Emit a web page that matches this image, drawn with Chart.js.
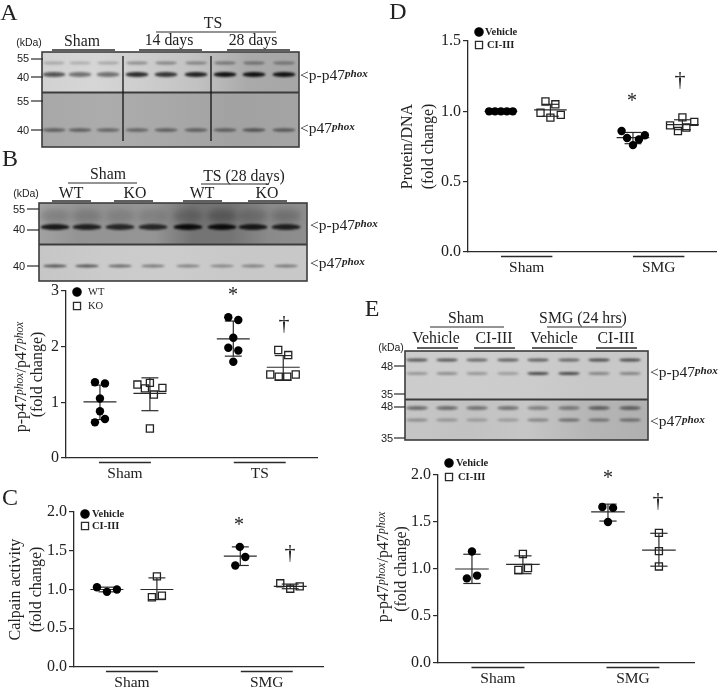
<!DOCTYPE html>
<html><head><meta charset="utf-8">
<script src="https://cdn.jsdelivr.net/npm/chart.js@4"></script>
<style>
html,body{margin:0;padding:0;background:#fff;width:720px;height:689px;overflow:hidden}
#page{position:relative;width:720px;height:689px;filter:blur(.35px)}
canvas{position:absolute}
.t{position:absolute;font-family:"Liberation Serif",serif;color:#222;white-space:nowrap;transform:translate(-50%,-50%);line-height:1}
.s{font-family:"Liberation Sans",sans-serif;color:#222}
.l{transform:translate(0,-50%)}
.r{transform:translate(-50%,-50%) rotate(-90deg)}
sup{font-size:.72em;font-style:italic;font-weight:bold;vertical-align:.3em;line-height:0}
.r sup{font-weight:normal;font-style:italic}
</style></head><body><div id="page"><canvas id="blots" width="720" height="689" style="left:0;top:0"></canvas></div>
<script>
const groupX=[0,1,2.67,3.67];
// Panel B
const bTickLabels=["Sham","TS"];
const bWtShamOff=[-.1,.1,0,0,-.1,.1], bWtShamVal=[1.36,1.34,1.07,.84,.64,.70];
const bWtTsOff=[-.1,.1,0,-.1,.1,0],   bWtTsVal=[2.53,2.48,2.16,1.98,1.93,1.73];
const bKoShamOff=[-.25,0,-.1,.08,.25,0], bKoShamVal=[1.32,1.35,1.25,1.14,1.26,.53];
const bKoTsOff=[-.1,.1,-.26,-.09,.08,.25], bKoTsVal=[1.94,1.85,1.50,1.46,1.46,1.50];
const bMean=[1.01,1.16,2.14,1.63], bUpper=[1.31,1.44,2.46,1.84], bLower=[.69,.85,1.83,1.40];
// Panel C
const cTickLabels=["Sham","SMG"];
const cVehShamOff=[-.2,0,.2], cVehShamVal=[1.03,.97,1.0];
const cVehSmgOff=[-.01,.1,-.1], cVehSmgVal=[1.55,1.42,1.31];
const cCiShamOff=[0,-.1,.1], cCiShamVal=[1.17,.90,.92];
const cCiSmgOff=[-.2,0,.19], cCiSmgVal=[1.08,1.01,1.04];
const cMean=[1.0,1.0,1.43,1.04], cUpper=[1.03,1.15,1.55,1.07], cLower=[.97,.87,1.31,1.01];
// Panel D
const dTickLabels=["Sham","SMG"];
const dVehShamOff=[-.24,-.12,0,.12,.24], dVehShamVal=[1,1,1,1,1];
const dVehSmgOff=[-.23,-.12,0,.12,.24], dVehSmgVal=[.86,.81,.76,.80,.83];
const dCiShamOff=[-.1,.1,-.2,0,.21], dCiShamVal=[1.07,1.05,.99,.955,.975];
const dCiSmgOff=[-.25,-.09,0,.08,.24], dCiSmgVal=[.90,.86,.957,.885,.925];
const dMean=[1.0,1.01,.813,.905], dUpper=[1.0,1.05,.85,.94], dLower=[1.0,.965,.77,.87];
// Panel E
const eTickLabels=["Sham","SMG"];
const eVehShamOff=[0,-.1,.1], eVehShamVal=[1.186,.90,.93];
const eVehSmgOff=[-.11,.1,0], eVehSmgVal=[1.66,1.65,1.50];
const eCiShamOff=[0,-.09,.1], eCiShamVal=[1.16,.99,1.01];
const eCiSmgOff=[0,0,0], eCiSmgVal=[1.384,1.19,1.027];
const eMean=[1.0,1.05,1.607,1.20], eUpper=[1.157,1.14,1.69,1.38], eLower=[.846,.95,1.51,1.03];

const INK="#2a2a2a", SERIF='"Liberation Serif", serif';
const page=document.getElementById('page');
function pts(g,off,val){return val.map((v,i)=>({x:groupX[g]+off[i],y:v}));}

const overlay={id:'overlay',
 beforeDatasetsDraw(ch,a,o){
  const c=ch.ctx,x=ch.scales.x,y=ch.scales.y;c.save();c.strokeStyle=INK;c.lineWidth=1.2;
  const seg=(x1,y1,x2,y2)=>{c.beginPath();c.moveTo(x1,y1);c.lineTo(x2,y2);c.stroke();};
  const u=x.getPixelForValue(1)-x.getPixelForValue(0);
  groupX.forEach((g,i)=>{
   const px=x.getPixelForValue(g),m=y.getPixelForValue(o.mean[i]),t=y.getPixelForValue(o.upper[i]),b=y.getPixelForValue(o.lower[i]);
   seg(px-.33*u,m,px+.33*u,m);seg(px,t,px,b);seg(px-.17*u,t,px+.17*u,t);seg(px-.17*u,b,px+.17*u,b);
  });
  c.restore();
 },
 afterDraw(ch,a,o){
  const c=ch.ctx,x=ch.scales.x;c.save();c.strokeStyle=INK;c.lineWidth=1.3;
  o.under.forEach(g=>{const p=x.getPixelForValue(g),h=.52*(x.getPixelForValue(1)-x.getPixelForValue(0));
   c.beginPath();c.moveTo(p-h,ch.chartArea.bottom+4.5);c.lineTo(p+h,ch.chartArea.bottom+4.5);c.stroke();});
  ch.data.datasets.forEach((d,i)=>{
   const [mx,my,tx]=o.legend[i];
   c.fillStyle=d.pointBackgroundColor;c.strokeStyle=INK;c.lineWidth=1.3;
   Chart.helpers.drawPoint(c,{pointStyle:d.pointStyle,radius:d.pointRadius,rotation:0,borderWidth:1.3},mx-o.cx,my-o.cy);
   if(d.pointStyle==='circle'){c.fill();}
   c.fillStyle='#222';c.font=o.legendFont;c.textBaseline='middle';c.textAlign='left';
   c.fillText(d.label,tx-o.cx,my-o.cy);
  });
  c.restore();
 }};

function panel(p){
 const cv=document.createElement('canvas');
 const topPad=18;
 const cx=p.left,cy=p.top-topPad,w=p.right+6-cx,h=p.bottom+28-cy;
 cv.width=w;cv.height=h;cv.style.left=cx+'px';cv.style.top=cy+'px';page.appendChild(cv);
 const u=p.unit;
 new Chart(cv,{type:'scatter',data:{datasets:[
  {label:p.names[0],data:p.a,pointStyle:'circle',pointRadius:4.2,pointBackgroundColor:'#000',pointBorderColor:'#000',pointBorderWidth:0,showLine:false},
  {label:p.names[1],data:p.b,pointStyle:'rect',pointRadius:5,pointBackgroundColor:'rgba(0,0,0,0)',pointBorderColor:'#222',pointBorderWidth:1.3,showLine:false}]},
 options:{responsive:false,animation:false,events:[],
  layout:{padding:{left:0,top:topPad,right:6,bottom:0}},
  plugins:{legend:{display:false},tooltip:{enabled:false},
   overlay:{mean:p.mean,upper:p.upper,lower:p.lower,under:p.under,legend:p.legend,cx,cy,legendFont:p.legendFont}},
  scales:{
   x:{type:'linear',min:(p.plot0-p.c0)/u,max:(p.right-p.c0)/u,
    afterBuildTicks:s=>{s.ticks=p.under.map(v=>({value:v}));},
    afterFit:s=>{s.height=28;},
    grid:{display:false,drawTicks:false},border:{color:INK,width:1.3},
    ticks:{autoSkip:false,maxRotation:0,padding:7,color:'#222',font:{family:SERIF,size:15.5},callback:v=>v<2?p.ticks[0]:p.ticks[1]}},
   y:{type:'linear',min:0,max:p.max,
    afterFit:s=>{s.width=p.plot0-cx;},
    grid:{drawOnChartArea:false,drawTicks:true,tickLength:5,color:INK,lineWidth:1.2},border:{color:INK,width:1.3},
    title:{display:true,text:p.title,color:'#222',font:{family:SERIF,size:16,lineHeight:p.titleLH/16},padding:{top:p.titlePad,bottom:0}},
    ticks:{stepSize:p.step,padding:2,color:'#222',font:{family:SERIF,size:p.tickSize||16},callback:v=>p.step<1?v.toFixed(1):String(v)}}
  }},plugins:[overlay]});
}

panel({left:0,top:291,right:318,bottom:458,plot0:66,c0:100,unit:50,max:3,step:1,ticks:bTickLabels,under:[.5,3.2],names:["WT","KO"],
 a:[...pts(0,bWtShamOff,bWtShamVal),...pts(2,bWtTsOff,bWtTsVal)],b:[...pts(1,bKoShamOff,bKoShamVal),...pts(3,bKoTsOff,bKoTsVal)],
 mean:bMean,upper:bUpper,lower:bLower,legend:[[77,292,88],[77,306,88]],legendFont:'10.5px '+SERIF,
 title:["","(fold change)"],titleLH:19,titlePad:9});
panel({left:0,top:512,right:324,bottom:667,plot0:74,c0:107,unit:50,max:2,step:.5,ticks:cTickLabels,under:[.5,3.2],names:["Vehicle","CI-III"],
 a:[...pts(0,cVehShamOff,cVehShamVal),...pts(2,cVehSmgOff,cVehSmgVal)],b:[...pts(1,cCiShamOff,cCiShamVal),...pts(3,cCiSmgOff,cCiSmgVal)],
 mean:cMean,upper:cUpper,lower:cLower,legend:[[85,514,92],[85,526,92]],legendFont:'bold 10.5px '+SERIF,
 title:["Calpain activity","(fold change)"],titleLH:21,titlePad:5});
panel({left:396,top:41,right:717,bottom:252,plot0:468,c0:501,unit:49.5,max:1.5,step:.5,ticks:dTickLabels,under:[.52,3.19],names:["Vehicle","CI-III"],
 a:[...pts(0,dVehShamOff,dVehShamVal),...pts(2,dVehSmgOff,dVehSmgVal)],b:[...pts(1,dCiShamOff,dCiShamVal),...pts(3,dCiSmgOff,dCiSmgVal)],
 mean:dMean,upper:dUpper,lower:dLower,legend:[[479,32,485],[479,45,487]],legendFont:'bold 10.5px '+SERIF,
 title:["Protein/DNA","(fold change)"],titleLH:21,titlePad:1});
panel({left:372,top:475,right:695,bottom:663,plot0:438,c0:472,unit:51,max:2,step:.5,ticks:eTickLabels,under:[.51,3.16],names:["Vehicle","CI-III"],
 a:[...pts(0,eVehShamOff,eVehShamVal),...pts(2,eVehSmgOff,eVehSmgVal)],b:[...pts(1,eCiShamOff,eCiShamVal),...pts(3,eCiSmgOff,eCiSmgVal)],
 mean:eMean,upper:eUpper,lower:eLower,legend:[[449,463,456],[449,477,458]],legendFont:'bold 10.5px '+SERIF,
 title:["","(fold change)"],titleLH:20,titlePad:0});

// ---- text annotations ----
function T(txt,x,y,size,cls){const d=document.createElement('div');d.className='t '+(cls||'');d.innerHTML=txt;d.style.left=x+'px';d.style.top=y+'px';d.style.fontSize=size+'px';page.appendChild(d);}
const PH='p47<sup>phox</sup>', PP='p-p47<sup>phox</sup>';
const HD=15.8;
[["A",9,12],["B",10,158],["C",10,497],["D",398,11],["E",372,308]].forEach(a=>T(a[0],a[1],a[2],24));
T(PP+'/'+PH,21,377,16,'r');T(PP+'/'+PH,383,567,16,'r');
[["*",233,294,20],["†",284,323,22],["*",239,524,20],["†",290,552,22],["*",632,100,20],["†",680,79,22],["*",608,477,20],["†",658,500,22]].forEach(a=>T(a[0],a[1],a[2],a[3]));
// blot A
T("(kDa)",29,42,10.5,'s');T("Sham",82,41,HD);T("TS",213,23,HD);T("14 days",169,40,HD);T("28 days",253,40,HD);
[["55",23,58],["40",23,77],["55",23,101],["40",23,130]].forEach(a=>T(a[0],a[1],a[2],11,'s'));
T("&lt;"+PP,300,75,15.5,'l');T("&lt;"+PH,300,128,15.5,'l');
// blot B
T("(kDa)",26,193,10.5,'s');T("Sham",108,174,HD);T("TS (28 days)",244,176,HD);
[["WT",71],["KO",135],["WT",202],["KO",267]].forEach(a=>T(a[0],a[1],193,HD));
[["55",19,209],["40",19,229],["40",19,266]].forEach(a=>T(a[0],a[1],a[2],11,'s'));
T("&lt;"+PP,310,225,15.5,'l');T("&lt;"+PH,310,263,15.5,'l');
// blot E
T("(kDa)",391,347,10.5,'s');T("Sham",466,318,HD);T("SMG (24 hrs)",583,318,HD);
[["Vehicle",436],["CI-III",494],["Vehicle",554],["CI-III",616]].forEach(a=>T(a[0],a[1],338,HD));
[["48",387,366],["35",387,394],["48",387,406],["35",387,438]].forEach(a=>T(a[0],a[1],a[2],11,'s'));
T("&lt;"+PP,650,372,15.5,'l');T("&lt;"+PH,650,421,15.5,'l');

// ---- blot pictures (decorative gel images, not chart data) ----
const g=document.getElementById('blots').getContext('2d');
function bg(x,y,w,h,stops){const gr=g.createLinearGradient(x,0,x+w,0);stops.forEach((s,i)=>gr.addColorStop(i/(stops.length-1),s));g.fillStyle=gr;g.fillRect(x,y,w,h);}
function bands(xs,y,hw,th,col,alphas,blur){g.save();g.filter='blur('+blur+'px)';g.fillStyle=col;
 xs.forEach((x,i)=>{g.globalAlpha=alphas[i];g.beginPath();g.ellipse(x,y,hw,th,0,0,7);g.fill();});g.restore();}
function frame(x,y,w,h,dv){g.strokeStyle='#3c3c3c';g.lineWidth=1.6;g.strokeRect(x,y,w,h);g.lineWidth=2;g.beginPath();g.moveTo(x,dv);g.lineTo(x+w,dv);g.stroke();}
function line(x1,y1,x2,y2,w,c){g.strokeStyle=c||INK;g.lineWidth=w||1.2;g.beginPath();g.moveTo(x1,y1);g.lineTo(x2,y2);g.stroke();}

// A
const aL=[54,80,108,137,166,196,225,254,284];
bg(42,52,257,40,['#d2d2d2','#d6d6d6','#cdcdcd','#c2c2c2','#aaaaaa','#a6a6a6']);
bg(42,92,257,55,['#a8a8a8','#acacac','#a8a8a8','#a2a2a2','#a4a4a4']);
bands(aL,63,11,1.6,'#555',[.35,.3,.35,.55,.6,.6,.7,.75,.7],1);
bands(aL,74.5,11.5,2.4,'#111',[.65,.5,.5,.85,.8,.9,1,1,1],1);
bands(aL,130,11.5,1.8,'#333',[.65,.65,.6,.6,.65,.65,.65,.75,.7],1);
frame(42,52,257,95,92.5);
line(123,56,123,141,1.3,'#111');line(211,56,211,141,1.3,'#111');
[[31,43,59],[31,43,77],[31,43,101],[31,43,130]].forEach(a=>line(a[0],a[2],a[1],a[2],1.2));
line(156,32,276,32);[[52,115],[139,202],[227,290]].forEach(a=>line(a[0],50,a[1],50,1.3));

// B
const bL=[55,87,120,153,188,222,253,286];
bg(39,203,268,41,['#a2a2a2','#949494','#949494','#959595','#747474','#747474','#8a8a8a','#8e8e8e']);
bg(39,244,268,37,['#c6c6c6','#cbcbcb','#cccccc','#c8c8c8','#c8c8c8']);
bands(bL,216,15,7,'#333',[.25,.25,.2,.2,.35,.45,.3,.3],3);
bands(bL,227,14.5,3,'#0a0a0a',[.9,.85,.8,.8,1,1,.9,.85],1.2);
bands(bL,266,12,1.5,'#333',[.8,.8,.65,.55,.5,.45,.5,.55],.8);
frame(39,203,268,78,244.5);
[[27,39,209],[27,39,230],[27,39,266]].forEach(a=>line(a[0],a[2],a[1],a[2],1.2));
line(68,183,137,183);line(201,184,269,184);[[52,91],[114,153],[183,222],[248,287]].forEach(a=>line(a[0],201,a[1],201,1.3));

// E
const eL=[417,447,477,508,538,569,599,630];
bg(405,351,243,48,['#cccccc','#cdcdcd','#cccccc','#c8c8c8','#c8c8c8']);
bg(405,399,243,41,['#c6c6c6','#c2c2c2','#c6c6c6','#b6b6b6','#b0b0b0']);
bands(eL,360,11,1.6,'#222',[.7,.7,.6,.65,.65,.6,.75,.75],.9);
bands(eL,373.5,11,1.6,'#333',[.35,.4,.35,.3,.85,.85,.45,.45],.9);
bands(eL,408,11,2,'#333',[.6,.6,.55,.55,.45,.5,.65,.65],1.1);
bands(eL,420,11,1.6,'#333',[.4,.35,.3,.3,.45,.6,.55,.6],1.1);
frame(405,351,243,89,399.5);
[[394,405,366],[394,405,394],[394,405,407],[394,405,438]].forEach(a=>line(a[0],a[2],a[1],a[2],1.2));
line(430,327,504,327);line(547,327,622,327);[[417,458],[474,515],[532,573],[596,637]].forEach(a=>line(a[0],348,a[1],348,1.3));
</script></body></html>
